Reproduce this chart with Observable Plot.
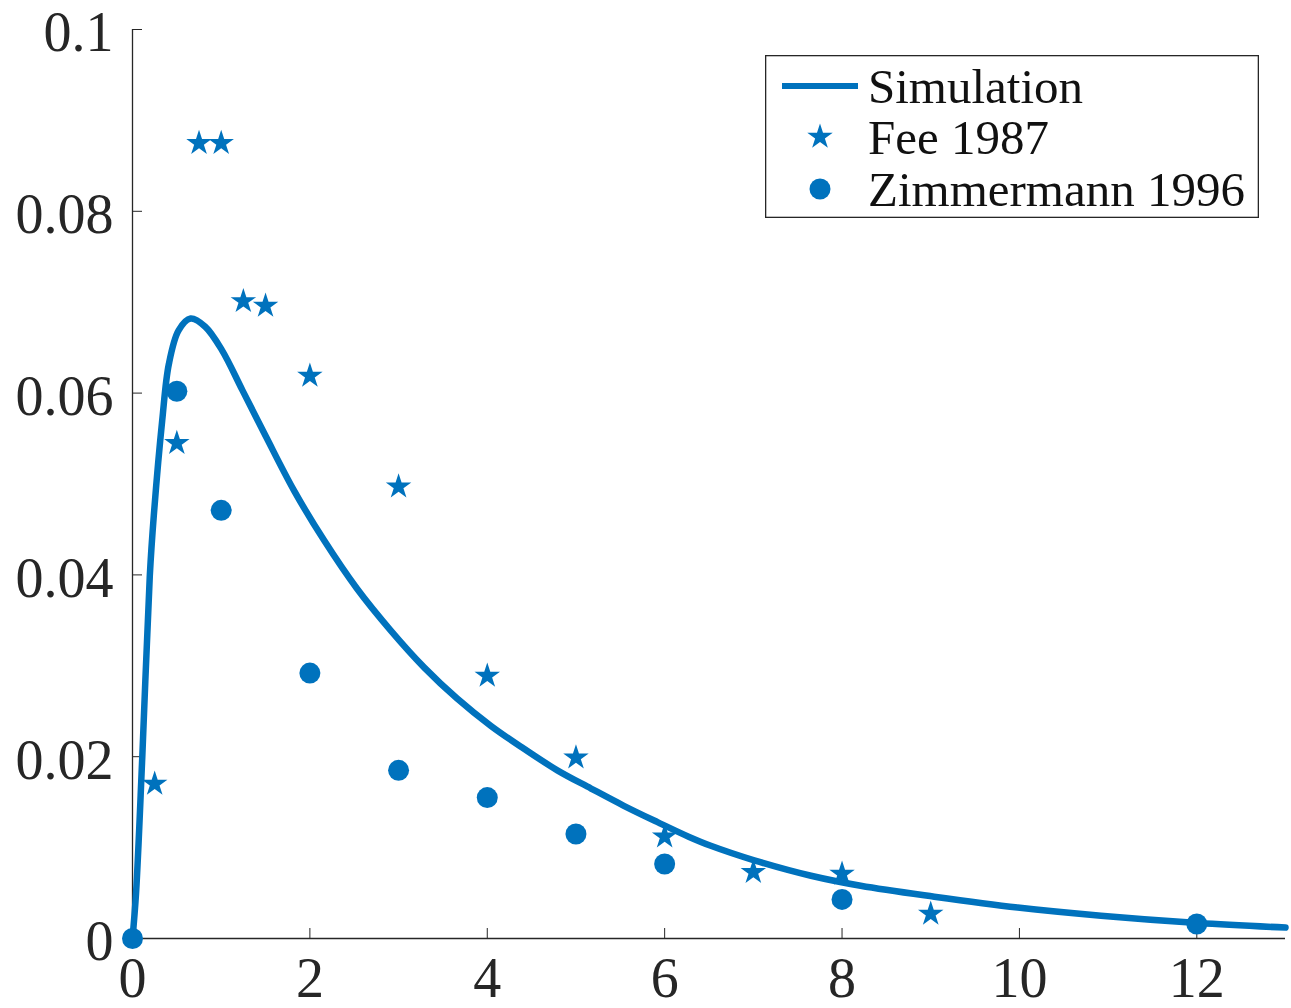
<!DOCTYPE html>
<html><head><meta charset="utf-8">
<script src="https://cdn.jsdelivr.net/npm/d3@7"></script>
<script src="https://cdn.jsdelivr.net/npm/@observablehq/plot@0.6"></script>
<style>
body{margin:0;background:#fff;}
#wrap{position:relative;width:1291px;height:1008px;background:#fff;}
#legend{position:absolute;left:765px;top:55px;}
</style></head><body><div id="wrap"></div>
<script>
// Simulation curve
const simX=[0,0.04,0.11,0.195,0.24,0.335,0.41,0.52,0.655,0.82,1.01,1.24,1.50,1.82,2.16,2.53,2.91,3.29,3.66,4.04,4.41,4.79,5.17,5.54,5.92,6.27,6.52,7.01,7.65,8.21,9.04,9.98,10.92,12.01,13];
const simY=[0,0.005,0.0199,0.0399,0.0465,0.057,0.0632,0.0669,0.0682,0.0673,0.0647,0.0603,0.0553,0.0493,0.0438,0.0385,0.0339,0.0298,0.0264,0.0234,0.0209,0.0185,0.0165,0.0146,0.0128,0.0112,0.0102,0.0086,0.0069,0.0058,0.0046,0.0034,0.0025,0.0017,0.0012];
// Fee 1987
const feeX=[0.25,0.5,0.75,1,1.25,1.5,2,3,4,5,6,7,8,9];
const feeY=[0.017,0.0545,0.0875,0.0875,0.0701,0.0696,0.0619,0.0497,0.0289,0.0199,0.0112,0.0073,0.0071,0.0027];
// Zimmermann 1996
const zimX=[0,0.5,1,2,3,4,5,6,8,12];
const zimY=[0,0.0602,0.0471,0.0292,0.0185,0.0155,0.0115,0.0082,0.0043,0.0016];
const xTicks=[0,2,4,6,8,10,12];
const xTickLabels=["0","2","4","6","8","10","12"];
const yTicks=[0,0.02,0.04,0.06,0.08,0.1];
const yTickLabels=["0","0.02","0.04","0.06","0.08","0.1"];
const seriesNames=["Simulation","Fee 1987","Zimmermann 1996"];

const color="#0072BD", ink="#262626";
const sim=simX.map((x,i)=>({x,y:simY[i]}));
const fee=feeX.map((x,i)=>({x,y:feeY[i]}));
const zim=zimX.map((x,i)=>({x,y:zimY[i]}));

const chart=Plot.plot({
  width:1291,height:1008,marginLeft:132,marginRight:6,marginTop:29,marginBottom:70,
  x:{domain:[0,13],label:null},
  y:{domain:[0,0.1],label:null},
  style:{fontFamily:"'Liberation Serif', serif",fontSize:"56px",color:ink,background:"#fff",overflow:"visible"},
  marks:[
    Plot.ruleX([0],{stroke:ink,strokeWidth:1.3}),
    Plot.ruleY([0],{stroke:ink,strokeWidth:1.3}),
    Plot.axisX(xTicks,{tickSize:10,dy:-10,tickFormat:()=>"",stroke:ink}),
    Plot.axisX(xTicks,{tickSize:0,tickPadding:19,fill:ink,tickFormat:d=>xTickLabels[xTicks.indexOf(d)]}),
    Plot.axisY(yTicks,{tickSize:10,dx:10,tickFormat:()=>"",stroke:ink}),
    Plot.axisY(yTicks,{tickSize:0,tickPadding:19,dy:4,fill:ink,tickFormat:d=>yTickLabels[yTicks.indexOf(d)]}),
    Plot.line(sim,{x:"x",y:"y",stroke:color,strokeWidth:6.5,curve:"catmull-rom"}),
    Plot.dot(fee,{x:"x",y:"y",symbol:"star",r:8,fill:color,stroke:"none"}),
    Plot.dot(zim,{x:"x",y:"y",r:10.5,fill:color,stroke:"none"})
  ]
});
const wrap=document.getElementById("wrap");
wrap.appendChild(chart);

// Legend
const W=494,H=163;
const leg=d3.select(wrap).append("svg").attr("id","legend").attr("width",W).attr("height",H)
  .style("font-family","'Liberation Serif', serif").style("font-size","49px");
leg.append("rect").attr("x",0.65).attr("y",0.65).attr("width",W-1.3).attr("height",H-1.3)
  .attr("fill","#fff").attr("stroke",ink).attr("stroke-width",1.3);
const rows=[31,82,134];
leg.append("line").attr("x1",17).attr("x2",93).attr("y1",rows[0]).attr("y2",rows[0]).attr("stroke",color).attr("stroke-width",6);
leg.append("path").attr("d",d3.symbol(d3.symbolStar,Math.PI*8*8)()).attr("transform",`translate(55,${rows[1]})`).attr("fill",color);
leg.append("circle").attr("cx",55).attr("cy",rows[2]).attr("r",10.5).attr("fill",color);
seriesNames.forEach((n,i)=>{
  leg.append("text").attr("x",103).attr("y",rows[i]+17).attr("fill","#111").text(n);
});
</script></body></html>
